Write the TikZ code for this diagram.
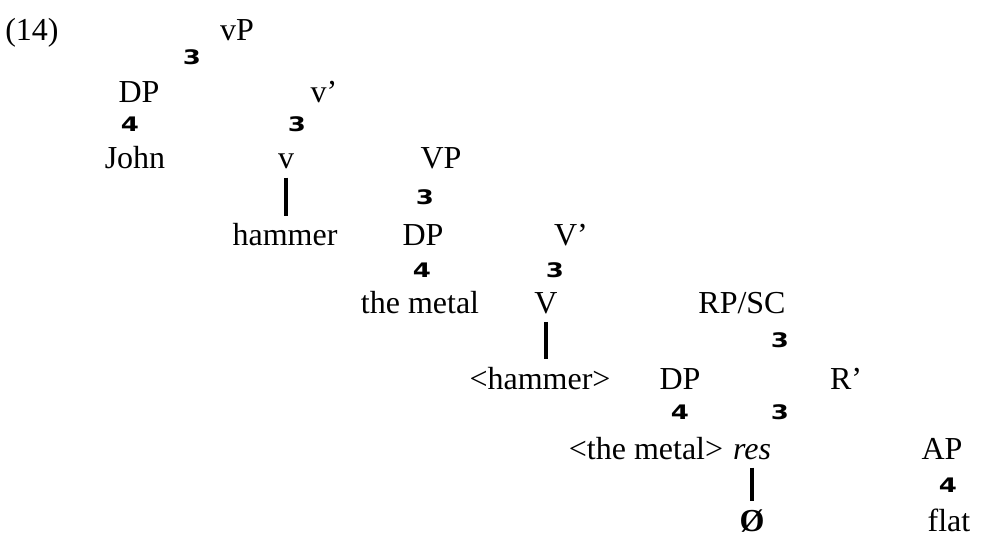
\documentclass[tikz,border=0pt]{standalone}
\usepackage{fontspec}
\setmainfont{Liberation Serif}
\newfontfamily\branchfont{DejaVu Sans}[FakeStretch=1.3]
\usepackage{tikz}

\tikzset{
	lab/.style={anchor=base,inner sep=0pt,font=\fontsize{24}{28}\selectfont},
	br/.style={inner sep=0pt,font=\fontsize{15}{17}\selectfont\branchfont\bfseries},
	bar/.style={line width=2.4pt}
}

\begin{document}
\begin{tikzpicture}
	[x=0.75pt,y=-0.75pt]
	\useasboundingbox (0,0) rectangle (981,538);
	\node[lab] (ex) at (32,41) {(14)};
	\node[lab] (vP) at (237,41) {vP};
	\node[br] (b1) at (192,57) {3};
	\node[lab] (DPa) at (139,103) {DP};
	\node[lab] (vbar) at (324,103) {v’};
	\node[br] (t1) at (130,124) {4};
	\node[br] (b2) at (297,124) {3};
	\node[lab] (john) at (135,169) {John};
	\node[lab] (v) at (286,169) {v};
	\node[lab] (VP) at (441,169) {VP};
	\node[br] (b3) at (425,197) {3};
	\node[lab] (hammer) at (285,246) {hammer};
	\node[lab] (DPb) at (423,246) {DP};
	\node[lab] (Vbar) at (571,246) {V’};
	\node[br] (t2) at (422,270) {4};
	\node[br] (b4) at (555,270) {3};
	\node[lab] (metal) at (420,313) {the metal};
	\node[lab] (V) at (546,313) {V};
	\node[lab] (RP) at (742,313) {RP/SC};
	\node[br] (b5) at (780,340) {3};
	\node[lab] (hammerb) at (540,389) {<hammer>};
	\node[lab] (DPc) at (680,389) {DP};
	\node[lab] (Rbar) at (846,389) {R’};
	\node[br] (t3) at (680,412) {4};
	\node[br] (b6) at (780,412) {3};
	\node[lab] (metalb) at (646,459) {<the metal>};
	\node[lab] (res) at (752,459) {\textit{res}};
	\node[lab] (AP) at (942,459) {AP};
	\node[br] (t4) at (948,485) {4};
	\node[lab] (zero) at (752,531) {\textbf{Ø}};
	\node[lab] (flat) at (949,531) {flat};
	\foreach \from/\to in {v/hammer,V/hammerb,res/zero}
	\draw[bar] ([yshift=-6pt]\from.south) -- ([yshift=6pt]\from.south |- \to.north);
\end{tikzpicture}
\end{document}
